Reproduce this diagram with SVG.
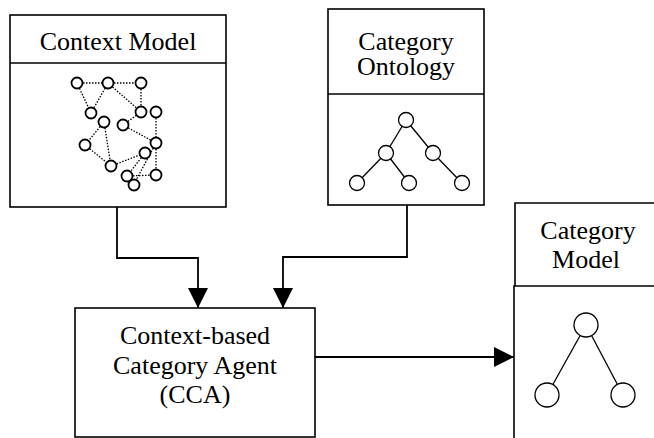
<svg xmlns="http://www.w3.org/2000/svg" width="654" height="438" viewBox="0 0 654 438">
<defs>
<marker id="arr" markerUnits="userSpaceOnUse" markerWidth="20" markerHeight="20" refX="20" refY="10" orient="auto">
<path d="M0,0 L20,10 L0,20 Z" fill="#000"/>
</marker>
<style>
.box{fill:#fff;stroke:#000;stroke-width:1.6}
.t{font-family:"Liberation Serif","Times New Roman",serif;font-size:26px;fill:#000;text-anchor:middle}
.c{fill:#fff;stroke:#000;stroke-width:1.3}
.cb{fill:#fff;stroke:#000;stroke-width:1.8}
.e{stroke:#000;stroke-width:1.3;fill:none}
.d{stroke:#000;stroke-width:1.3;stroke-dasharray:1.5 1.5;fill:none}
.con{stroke:#000;stroke-width:1.8;fill:none;marker-end:url(#arr)}
</style>
</defs>
<rect width="654" height="438" fill="#fff"/>

<g id="context-model">
<rect class="box" x="10" y="15" width="216" height="192"/>
<line class="box" x1="10" y1="63" x2="226" y2="63"/>
<text class="t" x="118" y="50">Context Model</text>
<g>
<line class="d" x1="77" y1="83" x2="108" y2="83"/>
<line class="d" x1="108" y1="83" x2="141" y2="83"/>
<line class="d" x1="77" y1="83" x2="91" y2="113"/>
<line class="d" x1="108" y1="83" x2="91" y2="113"/>
<line class="d" x1="108" y1="83" x2="141" y2="112"/>
<line class="d" x1="141" y1="83" x2="141" y2="112"/>
<line class="d" x1="123" y1="125" x2="141" y2="112"/>
<line class="d" x1="123" y1="125" x2="156" y2="143"/>
<line class="d" x1="156" y1="112" x2="156" y2="143"/>
<line class="d" x1="104" y1="122" x2="85" y2="145"/>
<line class="d" x1="104" y1="122" x2="111" y2="166"/>
<line class="d" x1="85" y1="145" x2="111" y2="166"/>
<line class="d" x1="111" y1="166" x2="145" y2="153"/>
<line class="d" x1="156" y1="143" x2="156" y2="175"/>
<line class="d" x1="145" y1="153" x2="127" y2="176"/>
<line class="d" x1="156" y1="143" x2="134" y2="184"/>
<line class="d" x1="127" y1="176" x2="156" y2="175"/>
</g>
<g>
<circle class="cb" cx="77" cy="83" r="5.5"/>
<circle class="cb" cx="108" cy="83" r="5.5"/>
<circle class="cb" cx="141" cy="83" r="5.5"/>
<circle class="cb" cx="91" cy="113" r="5.5"/>
<circle class="cb" cx="141" cy="112" r="5.5"/>
<circle class="cb" cx="156" cy="112" r="5.5"/>
<circle class="cb" cx="104" cy="122" r="5.5"/>
<circle class="cb" cx="123" cy="125" r="5.5"/>
<circle class="cb" cx="85" cy="145" r="5.5"/>
<circle class="cb" cx="156" cy="143" r="5.5"/>
<circle class="cb" cx="145" cy="153" r="5.5"/>
<circle class="cb" cx="111" cy="166" r="5.5"/>
<circle class="cb" cx="127" cy="176" r="5.5"/>
<circle class="cb" cx="156" cy="175" r="5.5"/>
<circle class="cb" cx="134" cy="185" r="5.5"/>
</g>
</g>

<g id="category-ontology">
<rect class="box" x="328" y="9" width="156" height="196"/>
<line class="box" x1="328" y1="94" x2="484" y2="94"/>
<text class="t" x="406" y="50">Category</text>
<text class="t" x="406" y="75">Ontology</text>
<line class="e" x1="406" y1="120" x2="386" y2="153"/>
<line class="e" x1="406" y1="120" x2="433" y2="153"/>
<line class="e" x1="386" y1="153" x2="357" y2="183"/>
<line class="e" x1="386" y1="153" x2="409" y2="183"/>
<line class="e" x1="433" y1="153" x2="462" y2="183"/>
<circle class="c" cx="406" cy="120" r="7.5"/>
<circle class="c" cx="386" cy="153" r="7.5"/>
<circle class="c" cx="433" cy="153" r="7.5"/>
<circle class="c" cx="357" cy="183" r="7.5"/>
<circle class="c" cx="409" cy="183" r="7.5"/>
<circle class="c" cx="462" cy="183" r="7.5"/>
</g>

<g id="cca">
<rect class="box" x="75" y="308" width="240" height="129"/>
<text class="t" x="195" y="344">Context-based</text>
<text class="t" x="195" y="374">Category Agent</text>
<text class="t" x="195" y="403">(CCA)</text>
</g>

<g id="category-model">
<path class="box" d="M514,438 L514,286 L654,286 M515,286 L515,203 L654,203"/>
<text class="t" x="588" y="239">Category</text>
<text class="t" x="586" y="268">Model</text>
<line class="e" x1="586" y1="325" x2="547" y2="395"/>
<line class="e" x1="586" y1="325" x2="623" y2="395"/>
<circle class="c" cx="586" cy="325" r="12"/>
<circle class="c" cx="547" cy="395" r="12"/>
<circle class="c" cx="623" cy="395" r="12"/>
</g>

<g id="connectors">
<path class="con" d="M117,207 L117,258 L198,258 L198,308"/>
<path class="con" d="M407,205 L407,257 L283,257 L283,308"/>
<path class="con" d="M315,357 L514,357"/>
</g>
</svg>
